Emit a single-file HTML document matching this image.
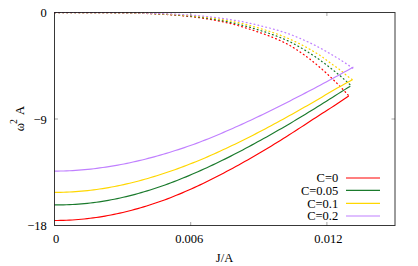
<!DOCTYPE html>
<html><head><meta charset="utf-8"><title>plot</title><style>
html,body{margin:0;padding:0;background:#fff;}
svg{display:block;font-family:"Liberation Serif",serif;}
</style></head><body>
<svg width="418" height="266" viewBox="0 0 418 266">
<rect width="418" height="266" fill="#fff"/>
<path d="M54.50,220.46 L57.47,220.46 L60.44,220.43 L63.42,220.36 L66.39,220.26 L69.36,220.13 L72.33,219.96 L75.30,219.76 L78.27,219.53 L81.25,219.26 L84.22,218.97 L87.19,218.64 L90.16,218.28 L93.13,217.90 L96.10,217.50 L99.08,217.06 L102.05,216.59 L105.02,216.09 L107.99,215.55 L110.96,214.99 L113.93,214.40 L116.91,213.77 L119.88,213.12 L122.85,212.44 L125.82,211.73 L128.79,210.98 L131.76,210.21 L134.74,209.41 L137.71,208.59 L140.68,207.73 L143.65,206.85 L146.62,205.94 L149.59,205.01 L152.57,204.04 L155.54,203.05 L158.51,202.04 L161.48,201.00 L164.45,199.94 L167.43,198.85 L170.40,197.73 L173.37,196.55 L176.34,195.34 L179.31,194.11 L182.28,192.86 L185.26,191.58 L188.23,190.29 L191.20,188.97 L194.17,187.63 L197.14,186.27 L200.11,184.89 L203.09,183.46 L206.06,182.01 L209.03,180.54 L212.00,179.05 L214.97,177.54 L217.94,176.01 L220.92,174.47 L223.89,172.91 L226.86,171.33 L229.83,169.73 L232.80,168.14 L235.77,166.53 L238.75,164.90 L241.72,163.26 L244.69,161.60 L247.66,159.93 L250.63,158.24 L253.61,156.54 L256.58,154.82 L259.55,153.09 L262.52,151.32 L265.49,149.53 L268.46,147.73 L271.44,145.91 L274.41,144.08 L277.38,142.24 L280.35,140.39 L283.32,138.52 L286.29,136.65 L289.27,134.76 L292.24,132.86 L295.21,130.96 L298.18,129.04 L301.15,127.11 L304.12,125.17 L307.10,123.22 L310.07,121.26 L313.04,119.34 L316.01,117.40 L318.98,115.46 L321.95,113.56 L324.93,111.67 L327.90,109.78 L330.87,107.88 L333.84,105.97 L336.81,104.01 L339.78,102.03 L342.76,100.03 L345.73,98.03 L348.70,96.02" stroke="#ff0000" stroke-width="1.15" fill="none"/>
<path d="M54.50,12.62 L57.47,12.62 L60.44,12.62 L63.42,12.62 L66.39,12.62 L69.36,12.62 L72.33,12.62 L75.30,12.62 L78.27,12.62 L81.25,12.63 L84.22,12.63 L87.19,12.64 L90.16,12.64 L93.13,12.65 L96.10,12.66 L99.08,12.67 L102.05,12.69 L105.02,12.70 L107.99,12.72 L110.96,12.75 L113.93,12.78 L116.91,12.81 L119.88,12.85 L122.85,12.89 L125.82,12.94 L128.79,12.99 L131.76,13.06 L134.74,13.12 L137.71,13.20 L140.68,13.29 L143.65,13.38 L146.62,13.49 L149.59,13.60 L152.57,13.73 L155.54,13.86 L158.51,14.01 L161.48,14.17 L164.45,14.35 L167.43,14.54 L170.40,14.74 L173.37,14.96 L176.34,15.20 L179.31,15.46 L182.28,15.73 L185.26,16.02 L188.23,16.33 L191.20,16.67 L194.17,17.02 L197.14,17.40 L200.11,17.80 L203.09,18.24 L206.06,18.70 L209.03,19.19 L212.00,19.71 L214.97,20.26 L217.94,20.83 L220.92,21.44 L223.89,22.08 L226.86,22.75 L229.83,23.45 L232.80,24.19 L235.77,24.97 L238.75,25.78 L241.72,26.64 L244.69,27.55 L247.66,28.50 L250.63,29.47 L253.61,30.44 L256.58,31.45 L259.55,32.51 L262.52,33.54 L265.49,34.60 L268.46,35.71 L271.44,36.88 L274.41,38.09 L277.38,39.36 L280.35,40.69 L283.32,42.07 L286.29,43.54 L289.27,45.09 L292.24,46.88 L295.21,48.77 L298.18,50.74 L301.15,52.76 L304.12,54.86 L307.10,57.02 L310.07,59.29 L313.04,61.65 L316.01,64.08 L318.98,66.58 L321.95,69.17 L324.93,71.83 L327.90,74.57 L330.87,77.38 L333.84,80.23 L336.81,83.16 L339.78,86.19 L342.76,89.25 L345.73,92.40 L348.70,95.65 L348.70,96.02" stroke="#ff0000" stroke-width="1.25" fill="none" stroke-dashoffset="-0.3" stroke-dasharray="0.85 3.15" stroke-linecap="round"/>
<path d="M54.50,204.93 L57.49,204.93 L60.48,204.91 L63.46,204.85 L66.45,204.76 L69.44,204.65 L72.43,204.50 L75.42,204.32 L78.40,204.11 L81.39,203.87 L84.38,203.60 L87.37,203.31 L90.35,202.98 L93.34,202.62 L96.33,202.23 L99.32,201.82 L102.31,201.35 L105.29,200.86 L108.28,200.34 L111.27,199.78 L114.26,199.20 L117.25,198.60 L120.23,197.96 L123.22,197.29 L126.21,196.60 L129.20,195.88 L132.18,195.12 L135.17,194.33 L138.16,193.51 L141.15,192.66 L144.14,191.79 L147.12,190.89 L150.11,189.96 L153.10,189.02 L156.09,188.04 L159.08,187.04 L162.06,186.02 L165.05,184.98 L168.04,183.91 L171.03,182.80 L174.02,181.66 L177.00,180.49 L179.99,179.30 L182.98,178.09 L185.97,176.86 L188.95,175.60 L191.94,174.33 L194.93,173.03 L197.92,171.71 L200.91,170.38 L203.89,169.02 L206.88,167.65 L209.87,166.25 L212.86,164.86 L215.85,163.45 L218.83,162.02 L221.82,160.57 L224.81,159.11 L227.80,157.63 L230.78,156.13 L233.77,154.60 L236.76,153.06 L239.75,151.51 L242.74,149.93 L245.72,148.34 L248.71,146.74 L251.70,145.12 L254.69,143.48 L257.68,141.83 L260.66,140.18 L263.65,138.53 L266.64,136.88 L269.63,135.21 L272.62,133.52 L275.60,131.82 L278.59,130.11 L281.58,128.39 L284.57,126.65 L287.55,124.91 L290.54,123.15 L293.53,121.37 L296.52,119.59 L299.51,117.80 L302.49,115.99 L305.48,114.17 L308.47,112.34 L311.46,110.50 L314.45,108.66 L317.43,106.80 L320.42,104.93 L323.41,103.07 L326.40,101.20 L329.38,99.32 L332.37,97.43 L335.36,95.53 L338.35,93.63 L341.34,91.74 L344.32,89.88 L347.31,88.02 L350.30,86.14" stroke="#1a7a2c" stroke-width="1.15" fill="none"/>
<path d="M54.50,12.62 L57.49,12.62 L60.48,12.62 L63.46,12.62 L66.45,12.62 L69.44,12.62 L72.43,12.62 L75.42,12.62 L78.40,12.62 L81.39,12.63 L84.38,12.63 L87.37,12.63 L90.35,12.64 L93.34,12.65 L96.33,12.66 L99.32,12.67 L102.31,12.68 L105.29,12.70 L108.28,12.72 L111.27,12.74 L114.26,12.77 L117.25,12.80 L120.23,12.83 L123.22,12.87 L126.21,12.92 L129.20,12.97 L132.18,13.03 L135.17,13.09 L138.16,13.16 L141.15,13.24 L144.14,13.33 L147.12,13.43 L150.11,13.53 L153.10,13.65 L156.09,13.77 L159.08,13.91 L162.06,14.06 L165.05,14.22 L168.04,14.39 L171.03,14.58 L174.02,14.78 L177.00,14.99 L179.99,15.23 L182.98,15.47 L185.97,15.74 L188.95,16.02 L191.94,16.32 L194.93,16.64 L197.92,16.98 L200.91,17.35 L203.89,17.75 L206.88,18.17 L209.87,18.61 L212.86,19.08 L215.85,19.57 L218.83,20.09 L221.82,20.63 L224.81,21.21 L227.80,21.81 L230.78,22.44 L233.77,23.10 L236.76,23.80 L239.75,24.52 L242.74,25.30 L245.72,26.11 L248.71,26.96 L251.70,27.83 L254.69,28.73 L257.68,29.67 L260.66,30.63 L263.65,31.56 L266.64,32.53 L269.63,33.55 L272.62,34.61 L275.60,35.72 L278.59,36.87 L281.58,38.07 L284.57,39.32 L287.55,40.67 L290.54,42.10 L293.53,43.67 L296.52,45.30 L299.51,46.98 L302.49,48.71 L305.48,50.51 L308.47,52.36 L311.46,54.27 L314.45,56.25 L317.43,58.29 L320.42,60.39 L323.41,62.56 L326.40,64.80 L329.38,67.11 L332.37,69.44 L335.36,71.84 L338.35,74.31 L341.34,76.85 L344.32,79.47 L347.31,82.16 L350.30,84.94 L350.30,86.14" stroke="#1a7a2c" stroke-width="1.25" fill="none" stroke-dashoffset="-0.3" stroke-dasharray="0.85 3.15" stroke-linecap="round"/>
<path d="M54.50,192.40 L57.51,192.38 L60.52,192.34 L63.52,192.26 L66.53,192.16 L69.54,192.02 L72.55,191.86 L75.56,191.66 L78.56,191.44 L81.57,191.18 L84.58,190.90 L87.59,190.58 L90.60,190.24 L93.61,189.87 L96.61,189.47 L99.62,189.04 L102.63,188.58 L105.64,188.09 L108.65,187.58 L111.65,187.03 L114.66,186.46 L117.67,185.86 L120.68,185.24 L123.69,184.59 L126.69,183.91 L129.70,183.20 L132.71,182.47 L135.72,181.72 L138.73,180.94 L141.73,180.13 L144.74,179.30 L147.75,178.44 L150.76,177.56 L153.77,176.65 L156.77,175.73 L159.78,174.78 L162.79,173.80 L165.80,172.81 L168.81,171.79 L171.82,170.75 L174.82,169.68 L177.83,168.60 L180.84,167.50 L183.85,166.37 L186.86,165.23 L189.86,164.06 L192.87,162.88 L195.88,161.68 L198.89,160.45 L201.90,159.20 L204.90,157.92 L207.91,156.62 L210.92,155.30 L213.93,153.96 L216.94,152.61 L219.94,151.24 L222.95,149.85 L225.96,148.45 L228.97,147.03 L231.98,145.60 L234.98,144.15 L237.99,142.69 L241.00,141.21 L244.01,139.72 L247.02,138.21 L250.03,136.69 L253.03,135.16 L256.04,133.62 L259.05,132.07 L262.06,130.50 L265.07,128.92 L268.07,127.33 L271.08,125.73 L274.09,124.11 L277.10,122.48 L280.11,120.84 L283.11,119.19 L286.12,117.53 L289.13,115.86 L292.14,114.18 L295.15,112.48 L298.15,110.78 L301.16,109.07 L304.17,107.36 L307.18,105.63 L310.19,103.90 L313.19,102.16 L316.20,100.41 L319.21,98.65 L322.22,96.88 L325.23,95.10 L328.24,93.32 L331.24,91.53 L334.25,89.72 L337.26,88.05 L340.27,86.42 L343.28,84.77 L346.28,83.12 L349.29,81.47 L352.30,79.80" stroke="#ffd700" stroke-width="1.15" fill="none"/>
<path d="M54.50,12.62 L57.51,12.62 L60.52,12.62 L63.52,12.62 L66.53,12.62 L69.54,12.62 L72.55,12.62 L75.56,12.62 L78.56,12.62 L81.57,12.63 L84.58,12.63 L87.59,12.63 L90.60,12.64 L93.61,12.64 L96.61,12.65 L99.62,12.66 L102.63,12.67 L105.64,12.68 L108.65,12.70 L111.65,12.72 L114.66,12.74 L117.67,12.77 L120.68,12.80 L123.69,12.83 L126.69,12.87 L129.70,12.91 L132.71,12.96 L135.72,13.02 L138.73,13.08 L141.73,13.15 L144.74,13.22 L147.75,13.30 L150.76,13.39 L153.77,13.49 L156.77,13.60 L159.78,13.72 L162.79,13.85 L165.80,13.99 L168.81,14.14 L171.82,14.31 L174.82,14.48 L177.83,14.68 L180.84,14.88 L183.85,15.10 L186.86,15.33 L189.86,15.58 L192.87,15.85 L195.88,16.14 L198.89,16.44 L201.90,16.77 L204.90,17.13 L207.91,17.51 L210.92,17.91 L213.93,18.33 L216.94,18.77 L219.94,19.24 L222.95,19.73 L225.96,20.25 L228.97,20.80 L231.98,21.37 L234.98,21.97 L237.99,22.60 L241.00,23.27 L244.01,23.98 L247.02,24.72 L250.03,25.50 L253.03,26.35 L256.04,27.23 L259.05,28.16 L262.06,29.05 L265.07,29.96 L268.07,30.91 L271.08,31.89 L274.09,32.92 L277.10,34.00 L280.11,35.11 L283.11,36.28 L286.12,37.51 L289.13,38.82 L292.14,40.19 L295.15,41.61 L298.15,43.07 L301.16,44.60 L304.17,46.17 L307.18,47.80 L310.19,49.49 L313.19,51.23 L316.20,53.03 L319.21,54.90 L322.22,56.97 L325.23,59.16 L328.24,61.42 L331.24,63.62 L334.25,65.71 L337.26,67.86 L340.27,70.11 L343.28,72.58 L346.28,75.13 L349.29,77.52 L352.30,79.68 L352.30,79.80" stroke="#ffd700" stroke-width="1.25" fill="none" stroke-dashoffset="-0.3" stroke-dasharray="0.85 3.15" stroke-linecap="round"/>
<path d="M54.50,171.08 L57.52,171.07 L60.54,171.02 L63.56,170.95 L66.58,170.85 L69.60,170.73 L72.62,170.57 L75.63,170.39 L78.65,170.18 L81.67,169.94 L84.69,169.67 L87.71,169.38 L90.73,169.06 L93.75,168.71 L96.77,168.34 L99.79,167.93 L102.81,167.52 L105.83,167.09 L108.85,166.63 L111.86,166.14 L114.88,165.63 L117.90,165.09 L120.92,164.53 L123.94,163.94 L126.96,163.32 L129.98,162.69 L133.00,162.04 L136.02,161.36 L139.04,160.66 L142.06,159.94 L145.08,159.20 L148.09,158.43 L151.11,157.64 L154.13,156.83 L157.15,155.99 L160.17,155.14 L163.19,154.26 L166.21,153.37 L169.23,152.45 L172.25,151.52 L175.27,150.56 L178.29,149.59 L181.31,148.59 L184.33,147.58 L187.34,146.55 L190.36,145.50 L193.38,144.43 L196.40,143.35 L199.42,142.24 L202.44,141.08 L205.46,139.88 L208.48,138.67 L211.50,137.44 L214.52,136.20 L217.54,134.94 L220.56,133.67 L223.57,132.38 L226.59,131.08 L229.61,129.76 L232.63,128.43 L235.65,127.09 L238.67,125.73 L241.69,124.36 L244.71,122.98 L247.73,121.58 L250.75,120.17 L253.77,118.75 L256.79,117.32 L259.81,115.88 L262.82,114.42 L265.84,112.96 L268.86,111.48 L271.88,109.99 L274.90,108.49 L277.92,106.98 L280.94,105.47 L283.96,103.96 L286.98,102.43 L290.00,100.90 L293.02,99.36 L296.04,97.81 L299.05,96.25 L302.07,94.69 L305.09,93.12 L308.11,91.55 L311.13,89.97 L314.15,88.39 L317.17,86.79 L320.19,85.19 L323.21,83.58 L326.23,81.96 L329.25,80.33 L332.27,78.70 L335.28,77.06 L338.30,75.41 L341.32,73.76 L344.34,72.10 L347.36,70.43 L350.38,68.76 L353.40,67.08" stroke="#c080ff" stroke-width="1.15" fill="none"/>
<path d="M54.50,12.62 L57.52,12.62 L60.54,12.62 L63.56,12.62 L66.58,12.62 L69.60,12.62 L72.62,12.62 L75.63,12.62 L78.65,12.62 L81.67,12.62 L84.69,12.63 L87.71,12.63 L90.73,12.63 L93.75,12.64 L96.77,12.64 L99.79,12.65 L102.81,12.66 L105.83,12.67 L108.85,12.68 L111.86,12.70 L114.88,12.72 L117.90,12.74 L120.92,12.76 L123.94,12.79 L126.96,12.82 L129.98,12.86 L133.00,12.90 L136.02,12.94 L139.04,12.99 L142.06,13.05 L145.08,13.11 L148.09,13.18 L151.11,13.25 L154.13,13.34 L157.15,13.43 L160.17,13.52 L163.19,13.63 L166.21,13.75 L169.23,13.87 L172.25,14.01 L175.27,14.16 L178.29,14.31 L181.31,14.49 L184.33,14.67 L187.34,14.86 L190.36,15.07 L193.38,15.30 L196.40,15.54 L199.42,15.79 L202.44,16.07 L205.46,16.37 L208.48,16.69 L211.50,17.03 L214.52,17.38 L217.54,17.76 L220.56,18.16 L223.57,18.57 L226.59,19.01 L229.61,19.47 L232.63,19.96 L235.65,20.47 L238.67,21.01 L241.69,21.58 L244.71,22.18 L247.73,22.81 L250.75,23.47 L253.77,24.16 L256.79,24.89 L259.81,25.64 L262.82,26.34 L265.84,27.07 L268.86,27.83 L271.88,28.62 L274.90,29.46 L277.92,30.33 L280.94,31.23 L283.96,32.18 L286.98,33.21 L290.00,34.30 L293.02,35.47 L296.04,36.68 L299.05,37.93 L302.07,39.24 L305.09,40.59 L308.11,41.98 L311.13,43.43 L314.15,44.92 L317.17,46.47 L320.19,48.07 L323.21,49.72 L326.23,51.43 L329.25,53.19 L332.27,54.94 L335.28,56.71 L338.30,58.55 L341.32,60.45 L344.34,62.41 L347.36,64.43 L350.38,66.52 L353.40,68.68 L353.40,67.08" stroke="#c080ff" stroke-width="1.25" fill="none" stroke-dashoffset="-0.3" stroke-dasharray="0.85 3.15" stroke-linecap="round"/>
<path d="M190.70,225.5 v-3.5 M190.70,12.5 v3.5" stroke="#666" stroke-width="0.6"/>
<path d="M326.90,225.5 v-3.5 M326.90,12.5 v3.5" stroke="#666" stroke-width="0.6"/>
<path d="M54.5,119.0 h3.5 M395.0,119.0 h-3.5" stroke="#666" stroke-width="0.6"/>
<rect x="54.5" y="12.5" width="340.5" height="213.0" fill="none" stroke="#000" stroke-opacity="0.78" stroke-width="1"/>
<path d="M346,178.0 H380" stroke="#ff0000" stroke-width="1.15"/>
<path d="M346,190.35 H380" stroke="#1a7a2c" stroke-width="1.15"/>
<path d="M346,203.35 H380" stroke="#ffd700" stroke-width="1.15"/>
<path d="M346,216.0 H380" stroke="#c080ff" stroke-width="1.15"/>
<g font-size="12.5" fill="#000" stroke="none" font-family="'Liberation Serif', serif"><text x="338.2" y="182.4" text-anchor="end">C=0</text><text x="338.2" y="194.8" text-anchor="end">C=0.05</text><text x="338.2" y="207.8" text-anchor="end">C=0.1</text><text x="338.2" y="220.4" text-anchor="end">C=0.2</text><text x="56.0" y="243" text-anchor="middle">0</text><text x="189.3" y="243" text-anchor="middle">0.006</text><text x="328.4" y="243" text-anchor="middle">0.012</text><text x="46.7" y="17.2" text-anchor="end">0</text><text x="46.7" y="123.7" text-anchor="end">−9</text><text x="46.7" y="230.2" text-anchor="end">−18</text><text x="224.5" y="262" text-anchor="middle">J/A</text><g transform="translate(23.9,131.5) rotate(-90)"><text x="0.3" y="0">ω</text><text x="7.4" y="-7.4" font-size="9.8">2</text><text x="16.6" y="0">A</text></g></g>
</svg>
</body></html>
